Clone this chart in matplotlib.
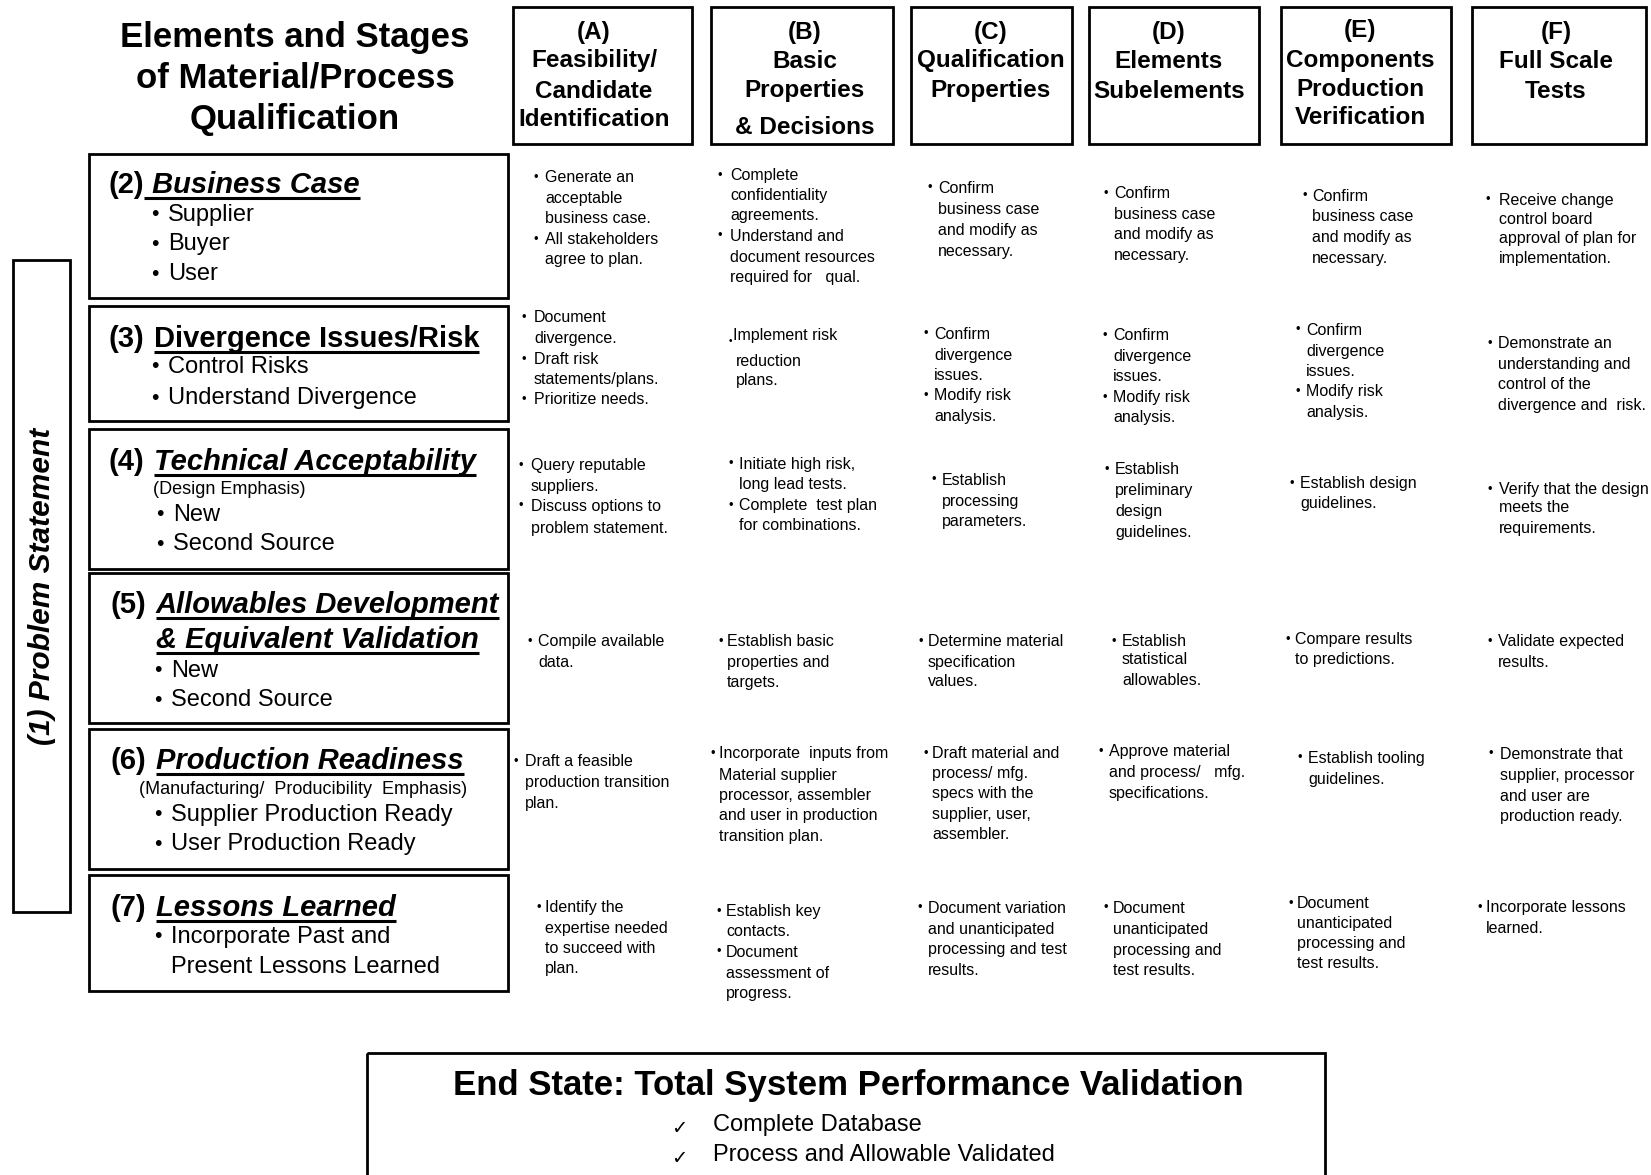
import matplotlib
matplotlib.use("Agg")
import matplotlib.pyplot as plt
from matplotlib.patches import Rectangle

# TEXT CONTENT

title_lines = ["Elements and Stages", "of Material/Process", "Qualification"]

stage_headers = [
    ["(A)", "Feasibility/", "Candidate", "Identification"],
    ["(B)", "Basic", "Properties", "& Decisions"],
    ["(C)", "Qualification", "Properties"],
    ["(D)", "Elements", "Subelements"],
    ["(E)", "Components", "Production", "Verification"],
    ["(F)", "Full Scale", "Tests"],
]

element_numbers = ["(2)", "(3)", "(4)", "(5)", "(6)", "(7)"]
element_titles = [
    [" Business Case"],
    ["Divergence Issues/Risk"],
    ["Technical Acceptability"],
    ["Allowables Development", "& Equivalent Validation"],
    ["Production Readiness"],
    ["Lessons Learned"],
]
element_notes = [None, None, "(Design Emphasis)", None,
                 "(Manufacturing/  Producibility  Emphasis)", None]
element_items = [
    ["• Supplier", "• Buyer", "• User"],
    ["• Control Risks", "• Understand Divergence"],
    ["• New", "• Second Source"],
    ["• New", "• Second Source"],
    ["• Supplier Production Ready", "• User Production Ready"],
    ["• Incorporate Past and", "Present Lessons Learned"],
]

confirm_case = ["• Confirm", "business case", "and modify as", "necessary."]
confirm_div = ["• Confirm", "divergence", "issues.", "• Modify risk", "analysis."]
doc_results = ["• Document", "unanticipated", "processing and", "test results."]

activities = [
    [  # (2) business case
        ["• Generate an", "acceptable", "business case.", "• All stakeholders", "agree to plan."],
        ["• Complete", "confidentiality", "agreements.", "• Understand and",
         "document resources", "required for   qual."],
        confirm_case, confirm_case, confirm_case,
        ["• Receive change", "control board", "approval of plan for", "implementation."],
    ],
    [  # (3) divergence
        ["• Document", "divergence.", "• Draft risk", "statements/plans.", "• Prioritize needs."],
        ["•Implement risk", "reduction", "plans."],
        confirm_div, confirm_div, confirm_div,
        ["• Demonstrate an", "understanding and", "control of the", "divergence and  risk."],
    ],
    [  # (4) technical
        ["• Query reputable", "suppliers.", "• Discuss options to", "problem statement."],
        ["• Initiate high risk,", "long lead tests.", "• Complete  test plan", "for combinations."],
        ["• Establish", "processing", "parameters."],
        ["• Establish", "preliminary", "design", "guidelines."],
        ["• Establish design", "guidelines."],
        ["• Verify that the design", "meets the", "requirements."],
    ],
    [  # (5) allowables
        ["• Compile available", "data."],
        ["• Establish basic", "properties and", "targets."],
        ["• Determine material", "specification", "values."],
        ["• Establish", "statistical", "allowables."],
        ["• Compare results", "to predictions."],
        ["• Validate expected", "results."],
    ],
    [  # (6) production
        ["• Draft a feasible", "production transition", "plan."],
        ["• Incorporate  inputs from", "Material supplier", "processor, assembler",
         "and user in production", "transition plan."],
        ["• Draft material and", "process/ mfg.", "specs with the", "supplier, user,", "assembler."],
        ["• Approve material", "and process/   mfg.", "specifications."],
        ["• Establish tooling", "guidelines."],
        ["• Demonstrate that", "supplier, processor", "and user are", "production ready."],
    ],
    [  # (7) lessons
        ["• Identify the", "expertise needed", "to succeed with", "plan."],
        ["• Establish key", "contacts.", "• Document", "assessment of", "progress."],
        ["• Document variation", "and unanticipated", "processing and test", "results."],
        doc_results, doc_results,
        ["• Incorporate lessons", "learned."],
    ],
]

problem_label = "(1) Problem Statement"
end_state_title = "End State: Total System Performance Validation"
end_state_items = ["Complete Database", "Process and Allowable Validated"]

# LAYOUT (pixels, origin top-left)

W, H = 1651, 1175

title_cx = 295
title_ys = [37, 78, 119]

header_boxes = [(513, 692), (711, 893), (911, 1072), (1089, 1259), (1281, 1451), (1472, 1646)]
header_top, header_bottom = 7, 144
header_cx = [594, 805, 991, 1169, 1360, 1556]
header_ys = [[33, 61, 91, 119], [33, 61, 90, 127], [33, 61, 91],
             [33, 61, 91], [31, 60, 89, 118], [33, 61, 91]]

row_left, row_right = 89, 508
row_boxes = [(154, 298), (306, 421), (429, 569), (573, 723), (729, 869), (875, 991)]
num_x = [108, 108, 108, 111, 111, 111]
heading_x = [144, 154, 154, 156, 156, 156]
heading_ys = [[183], [337], [460], [603, 638], [759], [906]]
heading_italic = [True, False, True, True, True, True]
note_pos = [None, None, (153, 489), None, (139, 789), None]
item_x = [155, 155, 160, 158, 158, 158]
item_ys = [[215, 244, 274], [367, 398], [515, 544], [671, 700], [815, 844], [937, 967]]

# (bullet centre x, text x, line ys) for every cell
cell_layout = [
    [(536, 545, [176, 197, 217, 238, 258]), (720, 730, [174, 194, 214, 235, 256, 276]),
     (930, 938, [187, 208, 229, 250]), (1106, 1114, [192, 213, 233, 254]),
     (1305, 1312, [195, 215, 236, 257]), (1488, 1499, [199, 218, 237, 257])],
    [(524, 534, [316, 337, 358, 378, 398]), (730, 736, [334, 360, 379]),
     (926, 934, [333, 354, 374, 394, 415]), (1105, 1113, [334, 355, 375, 396, 416]),
     (1298, 1306, [329, 350, 370, 390, 411]), (1490, 1498, [342, 363, 383, 404])],
    [(521, 531, [464, 485, 505, 527]), (731, 739, [463, 483, 504, 524]),
     (934, 942, [479, 500, 520]), (1107, 1115, [468, 489, 510, 531]),
     (1292, 1300, [482, 502]), (1490, 1499, [488, 506, 527])],
    [(530, 538, [640, 661]), (721, 727, [640, 661, 681]),
     (921, 928, [640, 661, 680]), (1114, 1122, [640, 658, 679]),
     (1288, 1295, [638, 658]), (1490, 1498, [640, 661])],
    [(516, 525, [760, 781, 802]), (713, 719, [752, 774, 794, 814, 835]),
     (926, 932, [752, 772, 792, 813, 833]), (1101, 1109, [750, 771, 792]),
     (1300, 1308, [757, 778]), (1491, 1500, [753, 774, 795, 815])],
    [(539, 545, [906, 927, 947, 967]), (719, 726, [910, 930, 951, 972, 992]),
     (920, 928, [907, 928, 948, 969]), (1106, 1113, [907, 928, 949, 969]),
     (1291, 1297, [902, 922, 942, 962]), (1480, 1486, [906, 927])],
]

BOX_LW = 2.0
BODY_DY = 1.5


def draw_lines(ax, lines, bx, tx, ys, size, bullet_scale=1.0, dy=0.0):
    for line, y in zip(lines, ys):
        y = y + dy
        if line.startswith("• "):
            ax.text(bx, y, "•", fontsize=size * bullet_scale, ha="center", va="center")
            ax.text(tx, y, line[2:], fontsize=size, ha="left", va="center")
        elif line.startswith("•"):
            # dot sitting on the baseline, glued to the text
            ax.text(bx, y + 5, "•", fontsize=size * bullet_scale * 0.8, ha="center", va="center")
            ax.text(bx + 3, y, line[1:], fontsize=size, ha="left", va="center")
        else:
            ax.text(tx, y, line, fontsize=size, ha="left", va="center")


def box(ax, x0, y0, x1, y1):
    ax.add_patch(Rectangle((x0, y0), x1 - x0, y1 - y0, fill=False,
                           edgecolor="black", linewidth=BOX_LW, clip_on=False))


def main() -> None:
    plt.rcParams["font.family"] = ["Liberation Sans", "DejaVu Sans"]

    fig = plt.figure(figsize=(W / 100, H / 100), dpi=100)
    ax = fig.add_axes([0, 0, 1, 1])
    ax.set_xlim(0, W)
    ax.set_ylim(H, 0)
    ax.axis("off")
    renderer = fig.canvas.get_renderer()

    # main title
    for line, y in zip(title_lines, title_ys):
        ax.text(title_cx, y, line, fontsize=25, fontweight="bold", ha="center", va="center")

    # stage headers
    for (x0, x1), cx, lines, ys in zip(header_boxes, header_cx, stage_headers, header_ys):
        box(ax, x0, header_top, x1, header_bottom)
        for line, y in zip(lines, ys):
            ax.text(cx, y, line, fontsize=17.5, fontweight="bold", ha="center", va="center")

    # problem statement bar
    box(ax, 13, 260, 70, 912)
    ax.text(42, 586, problem_label, fontsize=21.5, fontweight="bold", fontstyle="italic",
            rotation=90, ha="center", va="center")

    # element boxes
    for i, (y0, y1) in enumerate(row_boxes):
        box(ax, row_left, y0, row_right, y1)
        for k, (txt, yc) in enumerate(zip(element_titles[i], heading_ys[i])):
            base = yc + 10
            if k == 0:
                ax.text(num_x[i], base, element_numbers[i], fontsize=21,
                        fontweight="bold", ha="left", va="baseline")
            t = ax.text(heading_x[i], base, txt, fontsize=21, fontweight="bold",
                        fontstyle="italic" if heading_italic[i] else "normal",
                        ha="left", va="baseline")
            bb = t.get_window_extent(renderer).transformed(ax.transData.inverted())
            ax.plot([bb.x0, bb.x1], [base + 4.5, base + 4.5], color="black",
                    linewidth=2.2, solid_capstyle="butt")
        if note_pos[i] is not None:
            ax.text(note_pos[i][0], note_pos[i][1], element_notes[i], fontsize=13,
                    ha="left", va="center")
        draw_lines(ax, element_items[i], item_x[i], item_x[i] + 13, item_ys[i], 17,
                   bullet_scale=0.9)

    # activity cells
    for r, row in enumerate(activities):
        for c, lines in enumerate(row):
            bx, tx, ys = cell_layout[r][c]
            draw_lines(ax, lines, bx, tx, ys, 11.5, bullet_scale=0.8, dy=BODY_DY)

    # end state
    ax.add_patch(Rectangle((367, 1053), 958, 200, fill=False, edgecolor="black",
                           linewidth=BOX_LW, clip_on=True))
    ax.text(848, 1085, end_state_title, fontsize=25, fontweight="bold", ha="center", va="center")
    for item, y in zip(end_state_items, [1125, 1155]):
        ax.text(679, y + 3, "✓", fontsize=14, ha="center", va="center", family=["DejaVu Sans"])
        ax.text(713, y, item, fontsize=17, ha="left", va="center")

    fig.savefig("out.png", dpi=100)


if __name__ == "__main__":
    main()
